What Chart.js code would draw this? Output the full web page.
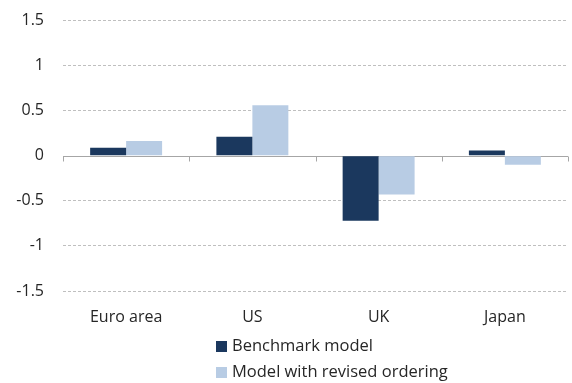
<!DOCTYPE html>
<html>
<head>
<meta charset="utf-8">
<script src="https://cdn.jsdelivr.net/npm/chart.js@4"></script>
<style>
  html, body { margin: 0; padding: 0; background: #fff; }
  #wrap { position: relative; width: 572px; height: 383px; overflow: hidden; }
  #chart { position: absolute; left: 0; top: -8px; }
  #legend { position: absolute; left: 216px; top: 332px; font: 16.5px "Open Sans", sans-serif; color: #262626; }
  #legend div { height: 26px; line-height: 26px; white-space: nowrap; }
  #legend span { display: inline-block; width: 11px; height: 11px; margin-right: 5px; vertical-align: -1px; }
</style>
</head>
<body>
<div id="wrap">
  <canvas id="chart" width="572" height="391"></canvas>
  <div id="legend"></div>
</div>
<script>
const categories = ['Euro area', 'US', 'UK', 'Japan'];
const benchmark = [0.09, 0.21, -0.72, 0.06];
const revised = [0.165, 0.56, -0.43, -0.10];
const seriesNames = ['Benchmark model', 'Model with revised ordering'];
const seriesColors = ['#1b385e', '#b8cce4'];

const font = { family: '"Open Sans"', size: 16 };

// zero line and the little tick marks at category boundaries
const zeroAxis = {
    id: 'zeroAxis',
    beforeDatasetsDraw(chart) {
        const { ctx, chartArea, scales } = chart;
        const y0 = Math.round(scales.y.getPixelForValue(0)) + 0.5;
        ctx.save();
        ctx.strokeStyle = '#a6a6a6';
        ctx.lineWidth = 1;
        ctx.setLineDash([]);
        ctx.beginPath();
        ctx.moveTo(chartArea.left, y0);
        ctx.lineTo(chartArea.right, y0);
        const n = categories.length;
        for (let i = 0; i <= n; i++) {
            const x = Math.round(chartArea.left + (chartArea.right - chartArea.left) * i / n) + 0.5;
            ctx.moveTo(x, y0);
            ctx.lineTo(x, y0 + 5);
        }
        ctx.stroke();
        ctx.restore();
    }
};

new Chart(document.getElementById('chart'), {
    type: 'bar',
    data: {
        labels: categories,
        datasets: [
            { label: seriesNames[0], data: benchmark, backgroundColor: seriesColors[0] },
            { label: seriesNames[1], data: revised, backgroundColor: seriesColors[1] }
        ]
    },
    options: {
        responsive: false,
        animation: false,
        layout: { padding: { top: 3, right: 4, left: 0, bottom: 0 } },
        datasets: { bar: { categoryPercentage: 0.57, barPercentage: 1 } },
        plugins: { legend: { display: false }, tooltip: { enabled: false } },
        scales: {
            x: {
                grid: { display: false },
                border: { display: false },
                ticks: { color: '#262626', font: font, padding: 9 },
                afterFit(scale) { scale.height = 92; }
            },
            y: {
                min: -1.5,
                max: 1.5,
                ticks: {
                    stepSize: 0.5,
                    color: '#262626',
                    font: font,
                    padding: 19,
                    callback: v => String(v)
                },
                grid: {
                    drawTicks: false,
                    color: ctx => ctx.tick && ctx.tick.value === 0 ? 'rgba(0,0,0,0)' : '#bfbfbf'
                },
                border: { display: false, dash: [3, 2] },
                afterFit(scale) { scale.width = 63; }
            }
        }
    },
    plugins: [zeroAxis]
});

// legend stacked in one column under the axis labels
const legend = document.getElementById('legend');
seriesNames.forEach((name, i) => {
    const row = document.createElement('div');
    const box = document.createElement('span');
    box.style.background = seriesColors[i];
    row.appendChild(box);
    row.appendChild(document.createTextNode(name));
    legend.appendChild(row);
});
</script>
</body>
</html>
